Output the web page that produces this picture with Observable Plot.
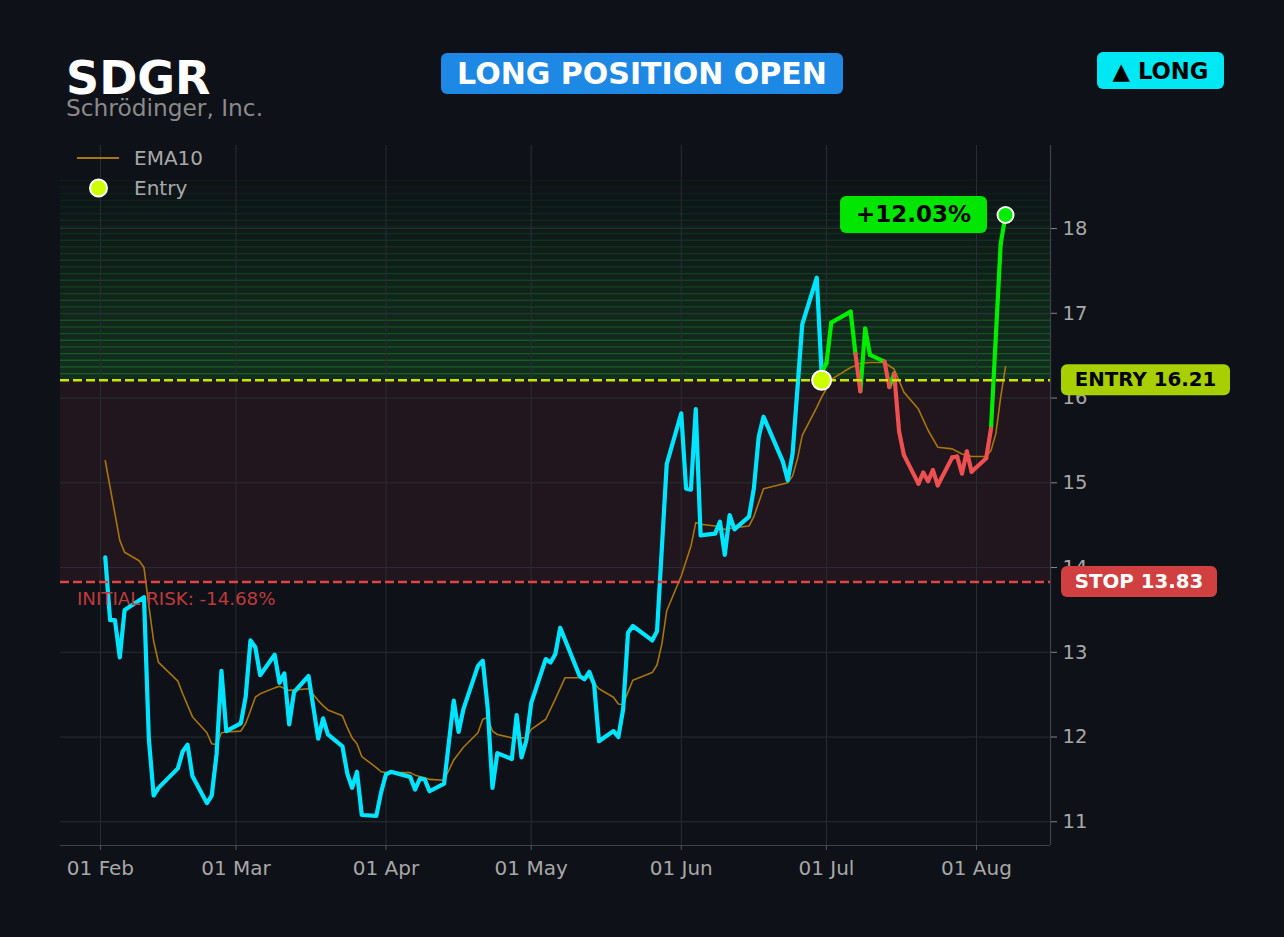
<!DOCTYPE html>
<html><head><meta charset="utf-8">
<script src="https://cdn.jsdelivr.net/npm/d3@7"></script>
<script src="https://cdn.jsdelivr.net/npm/@observablehq/plot@0.6"></script>
<style>
body{margin:0;background:#0e1117;}
#wrap{position:relative;width:1284px;height:937px;overflow:hidden;background:#0e1117;font-family:"DejaVu Sans",sans-serif;}
#wrap svg{position:absolute;left:0;top:0;}
</style></head><body><div id="wrap"></div>
<script>
const ticker = "SDGR";
const companyName = "Schrödinger, Inc.";
const entryPrice = 16.21;
const stopPrice = 13.83;
const entryDate = "2026-06-30";

const preDates = ["2026-02-02","2026-02-03","2026-02-04","2026-02-05","2026-02-06","2026-02-10","2026-02-11","2026-02-12","2026-02-13","2026-02-17","2026-02-18","2026-02-19","2026-02-20","2026-02-23","2026-02-24","2026-02-25","2026-02-26","2026-02-27","2026-03-02","2026-03-03","2026-03-04","2026-03-05","2026-03-06","2026-03-09","2026-03-10","2026-03-11","2026-03-12","2026-03-13","2026-03-16","2026-03-18","2026-03-19","2026-03-20","2026-03-23","2026-03-24","2026-03-25","2026-03-26","2026-03-27","2026-03-30","2026-03-31","2026-04-01","2026-04-02","2026-04-06","2026-04-07","2026-04-08","2026-04-09","2026-04-10","2026-04-13","2026-04-15","2026-04-16","2026-04-17","2026-04-20","2026-04-21","2026-04-22","2026-04-23","2026-04-24","2026-04-27","2026-04-28","2026-04-29","2026-04-30","2026-05-01","2026-05-04","2026-05-05","2026-05-06","2026-05-07","2026-05-11","2026-05-12","2026-05-13","2026-05-14","2026-05-15","2026-05-18","2026-05-19","2026-05-20","2026-05-21","2026-05-22","2026-05-26","2026-05-27","2026-05-29","2026-06-01","2026-06-02","2026-06-03","2026-06-04","2026-06-05","2026-06-08","2026-06-09","2026-06-10","2026-06-11","2026-06-12","2026-06-15","2026-06-16","2026-06-17","2026-06-18","2026-06-22","2026-06-23","2026-06-24","2026-06-26","2026-06-29","2026-06-30"];
const preClose = [14.12,13.38,13.38,12.94,13.50,13.65,11.98,11.31,11.40,11.63,11.83,11.91,11.54,11.22,11.31,11.80,12.78,12.07,12.16,12.47,13.14,13.06,12.73,12.97,12.64,12.75,12.15,12.53,12.72,11.98,12.22,12.03,11.89,11.57,11.40,11.59,11.08,11.07,11.35,11.56,11.59,11.53,11.38,11.51,11.50,11.36,11.45,12.43,12.06,12.33,12.84,12.90,12.35,11.40,11.81,11.74,12.26,11.76,11.96,12.40,12.92,12.88,12.98,13.29,12.72,12.68,12.77,12.62,11.95,12.07,12.00,12.33,13.23,13.31,13.14,13.25,15.22,15.82,14.93,14.92,15.87,14.38,14.40,14.54,14.15,14.62,14.45,14.60,14.93,15.54,15.78,15.25,15.03,15.34,16.87,17.42,16.30];

const postDates = ["2026-06-30","2026-07-01","2026-07-02","2026-07-06","2026-07-07","2026-07-08","2026-07-09","2026-07-10","2026-07-13","2026-07-14","2026-07-15","2026-07-16","2026-07-17","2026-07-20","2026-07-21","2026-07-22","2026-07-23","2026-07-24","2026-07-27","2026-07-28","2026-07-29","2026-07-30","2026-07-31","2026-08-03","2026-08-04","2026-08-06","2026-08-07"];
const postClose = [16.30,16.41,16.89,17.02,16.52,16.08,16.82,16.51,16.43,16.13,16.29,15.61,15.33,14.99,15.12,15.02,15.15,14.97,15.30,15.31,15.11,15.37,15.13,15.29,15.64,17.82,18.16];

const emaDates = ["2026-02-02","2026-02-05","2026-02-06","2026-02-09","2026-02-10","2026-02-11","2026-02-12","2026-02-13","2026-02-17","2026-02-18","2026-02-20","2026-02-23","2026-02-24","2026-02-25","2026-02-26","2026-02-27","2026-03-02","2026-03-03","2026-03-04","2026-03-05","2026-03-06","2026-03-09","2026-03-10","2026-03-12","2026-03-16","2026-03-18","2026-03-19","2026-03-20","2026-03-23","2026-03-24","2026-03-25","2026-03-26","2026-03-27","2026-03-30","2026-03-31","2026-04-01","2026-04-02","2026-04-06","2026-04-07","2026-04-09","2026-04-10","2026-04-13","2026-04-15","2026-04-17","2026-04-20","2026-04-21","2026-04-22","2026-04-23","2026-04-24","2026-04-27","2026-04-29","2026-04-30","2026-05-01","2026-05-04","2026-05-06","2026-05-08","2026-05-11","2026-05-13","2026-05-15","2026-05-18","2026-05-19","2026-05-20","2026-05-21","2026-05-22","2026-05-26","2026-05-27","2026-05-28","2026-05-29","2026-06-01","2026-06-03","2026-06-04","2026-06-05","2026-06-08","2026-06-10","2026-06-12","2026-06-15","2026-06-16","2026-06-18","2026-06-23","2026-06-24","2026-06-25","2026-06-26","2026-06-29","2026-06-30","2026-07-01","2026-07-02","2026-07-06","2026-07-07","2026-07-08","2026-07-10","2026-07-13","2026-07-15","2026-07-17","2026-07-20","2026-07-22","2026-07-24","2026-07-27","2026-07-29","2026-07-31","2026-08-03","2026-08-04","2026-08-05","2026-08-06","2026-08-07"];
const emaValues = [15.26,14.32,14.18,14.08,14.00,13.55,13.13,12.88,12.66,12.51,12.24,12.05,11.92,11.91,12.05,12.06,12.07,12.16,12.31,12.47,12.51,12.58,12.60,12.55,12.57,12.43,12.37,12.32,12.25,12.11,11.99,11.92,11.77,11.64,11.59,11.58,11.58,11.58,11.55,11.52,11.50,11.49,11.73,11.88,12.05,12.21,12.23,12.07,12.03,11.99,11.99,11.99,12.09,12.21,12.45,12.70,12.70,12.70,12.57,12.47,12.39,12.38,12.53,12.67,12.76,12.85,13.10,13.49,13.90,14.25,14.53,14.51,14.49,14.45,14.47,14.49,14.60,14.93,15.00,15.08,15.28,15.56,15.89,16.01,16.11,16.22,16.36,16.38,16.41,16.42,16.42,16.34,16.07,15.87,15.62,15.42,15.40,15.34,15.31,15.31,15.38,15.58,16.01,16.37];

const xTickDates = ["2026-02-01","2026-03-01","2026-04-01","2026-05-01","2026-06-01","2026-07-01","2026-08-01"];
const yTicks = [11,12,13,14,15,16,17,18];
const xDomainStr = ["2026-01-23T18:00:00Z","2026-08-16T07:00:00Z"];
const yDomain = [10.72, 18.98];
const profitZoneTop = 18.57;

const parse = d3.utcParse("%Y-%m-%d");
const pre = preDates.map((d,i)=>({date:parse(d), close:preClose[i]}));
const post = postDates.map((d,i)=>({date:parse(d), close:postClose[i]}));
const ema = emaDates.map((d,i)=>({date:parse(d), value:emaValues[i]}));
const xTicks = xTickDates.map(parse);
const xDomain = xDomainStr.map(s=>new Date(s));
const segs = [];
for (let i=1;i<post.length;i++) segs.push({x1:post[i-1].date,y1:post[i-1].close,x2:post[i].date,y2:post[i].close,up:post[i].close>=entryPrice});
const exit = post[post.length-1];
const pct = (exit.close/entryPrice-1)*100;
const riskPct = (stopPrice/entryPrice-1)*100;

const nBands = 30;
const step = (profitZoneTop-entryPrice)/nBands;
const bandMarks = [];
for (let i=0;i<nBands;i++){
  const t = 1 - i/nBands;
  const b = {x1:xDomain[0], x2:xDomain[1], y1:entryPrice+i*step, y2:entryPrice+(i+1)*step};
  bandMarks.push(Plot.rect([b],{x1:"x1",x2:"x2",y1:"y1",y2:"y2",fill:"#2ad040",fillOpacity:0.01+0.15*t}));
  bandMarks.push(Plot.ruleY([b.y2],{stroke:"#2ad040",strokeOpacity:0.03+0.28*t,strokeWidth:1.3}));
}

const chart = Plot.plot({
  width:1284, height:937,
  marginLeft:60, marginRight:234, marginTop:145, marginBottom:92,
  style:{background:"#0e1117", color:"#a8a8a8", fontFamily:"DejaVu Sans", fontSize:"19.5px"},
  x:{type:"utc", domain:xDomain, axis:null},
  y:{domain:yDomain, axis:null},
  marks:[
    ...bandMarks,
    Plot.rect([{x1:xDomain[0],x2:xDomain[1],y1:stopPrice,y2:entryPrice}],{x1:"x1",x2:"x2",y1:"y1",y2:"y2",fill:"#21161d"}),
    Plot.ruleX(xTicks,{stroke:"#2a2d34",strokeWidth:1}),
    Plot.ruleY(yTicks,{stroke:"#2a2d34",strokeWidth:1}),
    Plot.ruleX([xDomain[1]],{stroke:"#3e4148",strokeWidth:1.2}),
    Plot.ruleY([yDomain[0]],{stroke:"#3e4148",strokeWidth:1.2}),
    Plot.axisY({anchor:"right", ticks:yTicks, tickSize:6, tickPadding:6, label:null, fontSize:19.5, stroke:"#888", fill:"#a8a8a8"}),
    Plot.axisX({ticks:xTicks, tickFormat:d3.utcFormat("%d %b"), tickSize:5, tickPadding:10, label:null, fontSize:20, stroke:"#555", fill:"#a8a8a8"}),
    Plot.line(ema,{x:"date",y:"value",stroke:"#a8750f",strokeWidth:1.6}),
    Plot.line(pre,{x:"date",y:"close",stroke:"#00e5ff",strokeWidth:4.2,strokeLinejoin:"round",strokeLinecap:"round"}),
    Plot.link(segs.filter(s=>s.up),{x1:"x1",y1:"y1",x2:"x2",y2:"y2",stroke:"#00ee00",strokeWidth:4.2,strokeLinecap:"round"}),
    Plot.link(segs.filter(s=>!s.up),{x1:"x1",y1:"y1",x2:"x2",y2:"y2",stroke:"#ee5050",strokeWidth:4.2,strokeLinecap:"round"}),
    Plot.ruleY([entryPrice],{stroke:"#c8e600",strokeWidth:2.5,strokeDasharray:"9,4"}),
    Plot.ruleY([stopPrice],{stroke:"#e04444",strokeWidth:2.5,strokeDasharray:"9,4"}),
    Plot.dot([{date:parse(entryDate),v:entryPrice}],{x:"date",y:"v",r:9.5,fill:"#ccff00",stroke:"white",strokeWidth:2}),
    Plot.dot([exit],{x:"date",y:"close",r:8,fill:"#00ee00",stroke:"white",strokeWidth:2})
  ]
});
const wrap = document.getElementById("wrap");
wrap.appendChild(chart);

const ys = chart.scale("y"), xs = chart.scale("x");
const yE = ys.apply(entryPrice), yS = ys.apply(stopPrice), yX = ys.apply(exit.close), xX = xs.apply(exit.date);
const NS = "http://www.w3.org/2000/svg";
const ov = document.createElementNS(NS,"svg");
ov.setAttribute("width",1284); ov.setAttribute("height",937);
ov.style.fontFamily = "DejaVu Sans";
wrap.appendChild(ov);
function el(tag, attrs, text){
  const e = document.createElementNS(NS,tag);
  for (const k in attrs) e.setAttribute(k, attrs[k]);
  if (text!=null) e.textContent = text;
  ov.appendChild(e); return e;
}
function badge(x,y,w,h,fill,label,size,color){
  el("rect",{x,y,width:w,height:h,rx:6,fill});
  el("text",{x:x+w/2,y:y+h/2,"text-anchor":"middle","dominant-baseline":"central","font-size":size,"font-weight":"bold",fill:color},label);
}
el("text",{x:66,y:94,"font-size":46,"font-weight":"bold",fill:"#ffffff"},ticker);
el("text",{x:66,y:116,"font-size":23.3,fill:"#8a8a8a"},companyName);
badge(441,53,402,41,"#1e88e5","LONG POSITION OPEN",30,"#ffffff");
badge(1097,52,127,37,"#00e8f4","▲ LONG",22.7,"#000000");
// legend
el("line",{x1:77,x2:119,y1:158,y2:158,stroke:"#a8750f","stroke-width":2});
el("text",{x:134,y:158,"dominant-baseline":"central","font-size":20,fill:"#a8a8a8"},"EMA10");
el("circle",{cx:98.5,cy:188,r:8.5,fill:"#ccff00",stroke:"#ffffff","stroke-width":2});
el("text",{x:134,y:188,"dominant-baseline":"central","font-size":20,fill:"#a8a8a8"},"Entry");
// price labels
badge(1061,yE-15.5,169,31,"#a8d000","ENTRY "+entryPrice.toFixed(2),19.8,"#000000");
badge(1061,yS-15.5,156,31,"#d04040","STOP "+stopPrice.toFixed(2),19.8,"#ffffff");
badge(xX-165,yX-18.5,147,37,"#00e600","+"+pct.toFixed(2)+"%",23,"#000000");
el("text",{x:77,y:yS+17,"dominant-baseline":"central","font-size":18.2,fill:"#c03a3c"},"INITIAL RISK: "+riskPct.toFixed(2)+"%");
</script></body></html>
